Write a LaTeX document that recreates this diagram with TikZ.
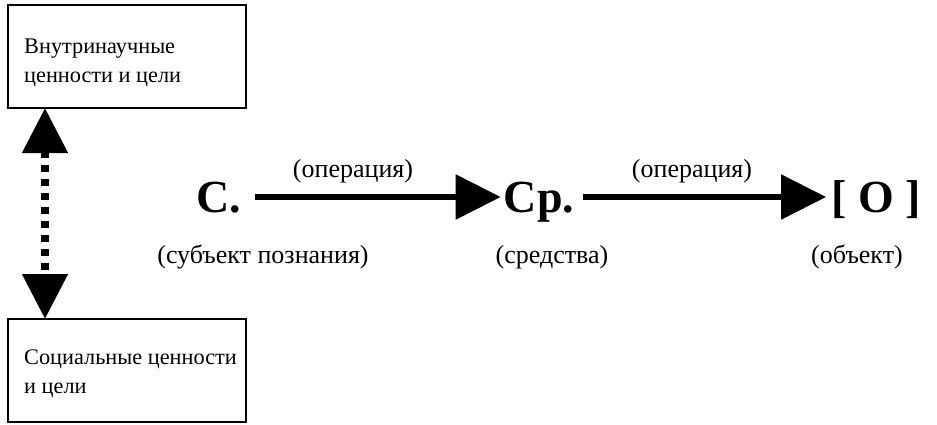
\documentclass[tikz,border=0pt]{standalone}
\usepackage{fontspec}
\setmainfont{Liberation Serif}
\usetikzlibrary{arrows.meta}
\begin{document}
\begin{tikzpicture}[x=1pt,y=-1pt,
  boxnode/.style={draw,line width=2.2pt,minimum width=238pt,minimum height=103pt,inner sep=0pt},
  boxtext/.style={anchor=base west,align=left,font=\fontsize{22.3}{28.5}\selectfont,inner sep=0pt},
  lbl/.style={anchor=base,font=\fontsize{26}{30}\selectfont,inner sep=0pt},
  big/.style={anchor=base,font=\fontsize{46}{50}\selectfont\bfseries,inner sep=0pt},
  harrow/.style={line width=5.5pt,-{Triangle[length=45pt,width=44pt]}},
  varrow/.style={line width=8pt,dash pattern=on 7pt off 7pt,
    {Triangle[length=45pt,width=44pt]}-{Triangle[length=45pt,width=44pt]}}]
\useasboundingbox (0,0) rectangle (937,424);
\node[boxnode] (top) at (127,56.5) {};
\node[boxnode] (bot) at (127,370.5) {};
\node[boxtext] (toptext) at (24,82) {Внутринаучные\\ценности и цели};
\node[boxtext] (bottext) at (24,393) {Социальные ценности\\и цели};
\coordinate (va) at (45,108);
\coordinate (vb) at (45,319);
\draw[varrow] (va) -- (vb);
\node[big] (c) at (219,212) {С.};
\node[big] (cp) at (539,212) {Ср.};
\node[big] (o) at (876,212) {[ О ]};
\draw[harrow] ([shift={(13,-15)}]c.base east) -- ([shift={(-3,-15)}]cp.base west);
\draw[harrow] ([shift={(9,-15)}]cp.base east) -- ([shift={(-5,-15)}]o.base west);
\node[lbl] (op1) at (353,177) {(операция)};
\node[lbl] (op2) at (692,177) {(операция)};
\node[lbl] (s1) at (263,263) {(субъект познания)};
\node[lbl] (s2) at (552,263) {(средства)};
\node[lbl] (s3) at (857,263) {(объект)};
\end{tikzpicture}
\end{document}
